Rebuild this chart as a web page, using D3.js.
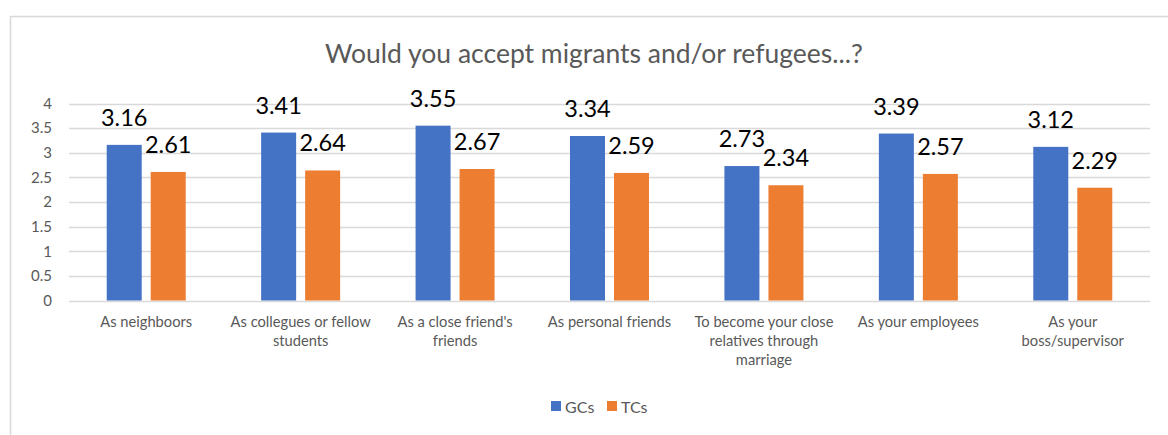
<!DOCTYPE html>
<html>
<head>
<meta charset="utf-8">
<script src="https://cdn.jsdelivr.net/npm/d3@7"></script>
<style>
  html, body { margin: 0; padding: 0; background: #fff; }
  svg { display: block; font-family: "Lato", "Open Sans", sans-serif; }
</style>
</head>
<body>
<svg id="chart" width="1168" height="435"></svg>
<script>
// Categories (each split into the lines shown under the axis)
const categories = [
  "As neighboors",
  "As collegues or fellow students",
  "As a close friend's friends",
  "As personal friends",
  "To become your close relatives through marriage",
  "As your employees",
  "As your boss/supervisor"
];
const categoryLines = [
  ["As neighboors"],
  ["As collegues or fellow", "students"],
  ["As a close friend's", "friends"],
  ["As personal friends"],
  ["To become your close", "relatives through", "marriage"],
  ["As your employees"],
  ["As your", "boss/supervisor"]
];
const seriesNames = ["GCs", "TCs"];
const gcValues = [3.16, 3.41, 3.55, 3.34, 2.73, 3.39, 3.12];
const tcValues = [2.61, 2.64, 2.67, 2.59, 2.34, 2.57, 2.29];
const yTicks = [0, 0.5, 1, 1.5, 2, 2.5, 3, 3.5, 4];
const colors = { GCs: "#4472C4", TCs: "#ED7D31" };

const svg = d3.select("#chart");

// chart frame
svg.append("rect")
  .attr("x", 10.5).attr("y", 16.5)
  .attr("width", 1200).attr("height", 500)
  .attr("fill", "none").attr("stroke", "#D9D9D9").attr("stroke-width", 1.5);

// title
svg.append("text")
  .attr("x", 594).attr("y", 63)
  .attr("text-anchor", "middle")
  .attr("font-size", 26.5)
  .attr("fill", "#595959")
  .text("Would you accept migrants and/or refugees...?");

const plot = { left: 69, right: 1150, top: 103.5, bottom: 300.5 };

const x = d3.scaleBand()
  .domain(categories)
  .range([plot.left, plot.right])
  .paddingInner(0).paddingOuter(0);

const bw = x.bandwidth();
const groupW = 79;
const xs = d3.scaleBand()
  .domain(seriesNames)
  .range([(bw - groupW) / 2, (bw + groupW) / 2])
  .paddingInner(9 / 44).paddingOuter(0);

const y = d3.scaleLinear().domain([0, 4]).range([plot.bottom, plot.top]);

// gridlines
svg.append("g")
  .selectAll("line")
  .data(yTicks)
  .join("line")
  .attr("x1", plot.left).attr("x2", plot.right)
  .attr("y1", d => Math.round(y(d)) + 0.5)
  .attr("y2", d => Math.round(y(d)) + 0.5)
  .attr("stroke", "#D9D9D9").attr("stroke-width", 1.3);

// y axis labels
const yAxis = d3.axisLeft(y).tickValues(yTicks).tickSize(0).tickPadding(0)
  .tickFormat(d3.format("~g"));
const yg = svg.append("g").attr("transform", `translate(${plot.left - 17},0)`).call(yAxis);
yg.select(".domain").remove();
yg.selectAll("text")
  .attr("font-family", "Lato, 'Open Sans', sans-serif")
  .attr("font-size", 15)
  .attr("fill", "#595959");

// bars
const rows = categories.map((c, i) => ({
  cat: c,
  vals: [
    { s: "GCs", v: gcValues[i] },
    { s: "TCs", v: tcValues[i] }
  ]
}));

const groups = svg.append("g").selectAll("g")
  .data(rows)
  .join("g")
  .attr("transform", d => `translate(${x(d.cat)},0)`);

groups.selectAll("rect")
  .data(d => d.vals)
  .join("rect")
  .attr("x", d => xs(d.s))
  .attr("width", xs.bandwidth())
  .attr("y", d => y(d.v))
  .attr("height", d => y(0) - y(d.v))
  .attr("fill", d => colors[d.s]);

// value labels
groups.selectAll("text.val")
  .data(d => d.vals)
  .join("text")
  .attr("class", "val")
  .attr("x", d => xs(d.s) + xs.bandwidth() / 2)
  .attr("y", d => y(d.v) - 19)
  .attr("text-anchor", "middle")
  .attr("font-size", 23.5)
  .attr("fill", "#000")
  .text(d => d.v.toFixed(2));

// category axis
const xAxis = d3.axisBottom(x).tickSize(0).tickFormat("");
const xg = svg.append("g").attr("transform", `translate(0,${plot.bottom})`).call(xAxis);
xg.select(".domain").remove();

const catLabels = svg.append("g").selectAll("text")
  .data(categories)
  .join("text")
  .attr("x", d => x(d) + bw / 2)
  .attr("y", 327)
  .attr("text-anchor", "middle")
  .attr("font-size", 14.7)
  .attr("fill", "#595959");
catLabels.each(function (d, i) {
  d3.select(this).selectAll("tspan")
    .data(categoryLines[i])
    .join("tspan")
    .attr("x", x(d) + bw / 2)
    .attr("dy", (t, j) => j === 0 ? 0 : 19)
    .text(t => t);
});

// legend
const legend = svg.append("g").attr("transform", "translate(551,401)");
const items = [{ s: "GCs", dx: 0 }, { s: "TCs", dx: 56 }];
const li = legend.selectAll("g").data(items).join("g")
  .attr("transform", d => `translate(${d.dx},0)`);
li.append("rect").attr("width", 10).attr("height", 10).attr("fill", d => colors[d.s]);
li.append("text").attr("x", 14).attr("y", 11.5)
  .attr("font-size", 16).attr("fill", "#595959")
  .text(d => d.s);
</script>
</body>
</html>
